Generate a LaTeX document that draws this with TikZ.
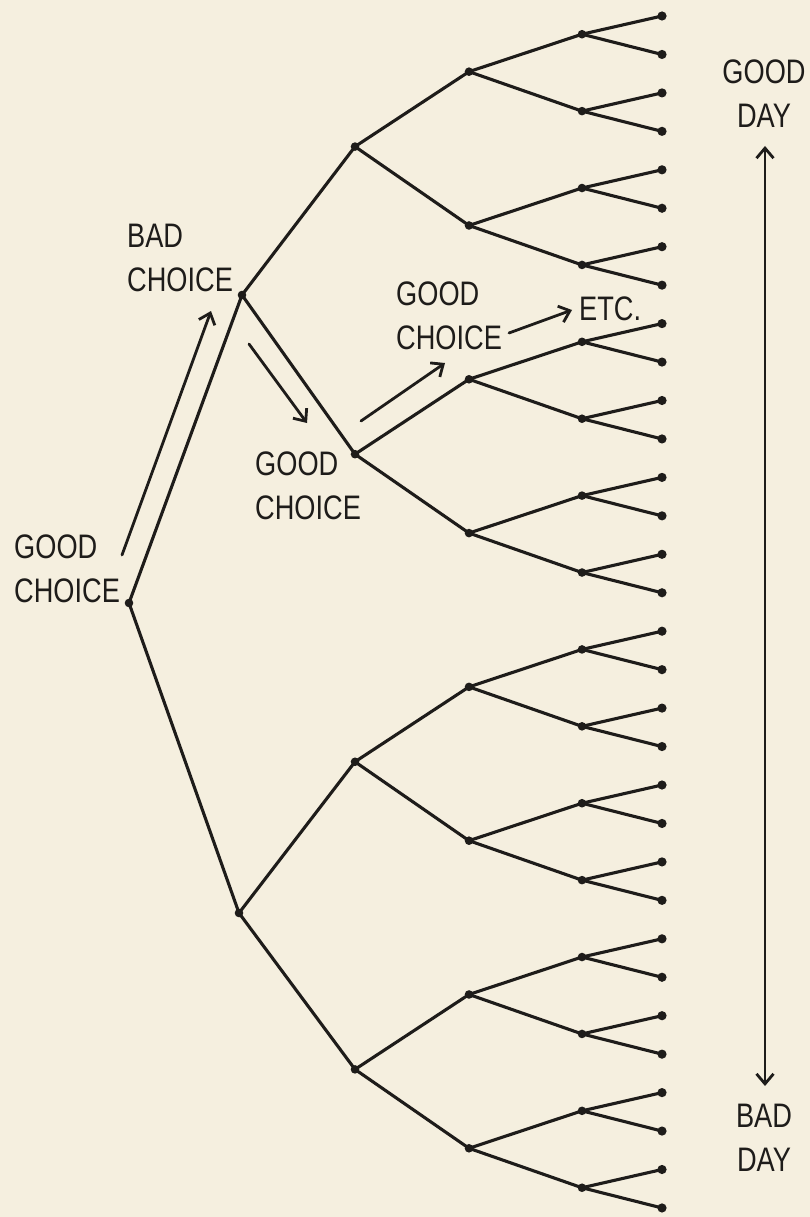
\documentclass[tikz,border=0pt]{standalone}
\usepackage{fontspec}
\newfontfamily\lblfont{Liberation Sans}[FakeStretch=0.8]
\usetikzlibrary{arrows.meta}
\definecolor{bg}{RGB}{245,239,223}
\definecolor{ink}{RGB}{30,28,26}
\begin{document}
\begin{tikzpicture}[x=1pt,y=-1pt,
  edge/.style={draw=ink,line width=3.1pt,line cap=round},
  dotbig/.style={fill=ink},
  barb/.tip={Straight Barb[length=10pt,width=17pt,line width=2.8pt]},
  pointer/.style={draw=ink,line width=2.8pt,line cap=round,-barb},
  lbl/.style={font=\lblfont\fontsize{34}{44}\selectfont,text=ink,inner sep=0pt,align=left,anchor=north west},
  lblc/.style={font=\lblfont\fontsize{34}{44}\selectfont,text=ink,inner sep=0pt,align=center,anchor=north}]
\fill[bg] (0,0) rectangle (810,1217);
\useasboundingbox (0,0) rectangle (810,1217);
% coordinates of the tree
\foreach \i in {0,...,31}{\coordinate (e\i) at (662,{16+\i*38.45});}
\foreach \j in {0,...,15}{\coordinate (d\j) at (582,{15+(2*\j+0.5)*38.45});}
\foreach \k in {0,...,7}{\coordinate (c\k) at (469,{14+(4*\k+1.5)*38.45});}
\foreach \m in {0,...,3}{\coordinate (b\m) at (355,{12+(8*\m+3.5)*38.45});}
\coordinate (a0) at (242,295);
\coordinate (a1) at (239,913);
\coordinate (r) at (129,603);
% edges
\draw[edge] (r) -- (a0);
\draw[edge] (r) -- (a1);
\draw[edge] (a0) -- (b0); \draw[edge] (a0) -- (b1);
\draw[edge] (a1) -- (b2); \draw[edge] (a1) -- (b3);
\foreach \m in {0,...,3}{\pgfmathtruncatemacro\p{2*\m}\pgfmathtruncatemacro\q{2*\m+1}
  \draw[edge] (b\m) -- (c\p); \draw[edge] (b\m) -- (c\q);}
\foreach \k in {0,...,7}{\pgfmathtruncatemacro\p{2*\k}\pgfmathtruncatemacro\q{2*\k+1}
  \draw[edge] (c\k) -- (d\p); \draw[edge] (c\k) -- (d\q);}
\foreach \j in {0,...,15}{\pgfmathtruncatemacro\p{2*\j}\pgfmathtruncatemacro\q{2*\j+1}
  \draw[edge] (d\j) -- (e\p); \draw[edge] (d\j) -- (e\q);}
% dots
\foreach \i in {0,...,31}{\fill[dotbig] (e\i) circle[radius=4.6pt];}
\foreach \j in {0,...,15}{\fill[dotbig] (d\j) circle[radius=4.3pt];}
\foreach \k in {0,...,7}{\fill[dotbig] (c\k) circle[radius=4.3pt];}
\foreach \m in {0,...,3}{\fill[dotbig] (b\m) circle[radius=4.3pt];}
\fill[dotbig] (a0) circle[radius=4.3pt];
\fill[dotbig] (a1) circle[radius=4.3pt];
\fill[dotbig] (r) circle[radius=4.3pt];
% labels
\node[lbl] (t1) at (14,535) {GOOD\\CHOICE};
\node[lbl] (t2) at (127,224) {BAD\\CHOICE};
\node[lbl] (t3) at (255,452) {GOOD\\CHOICE};
\node[lbl] (t4) at (396,282) {GOOD\\CHOICE};
\node[lbl] (t5) at (579,297) {ETC.};
\node[lblc] (t6) at (764,60) {GOOD\\DAY};
\node[lblc] (t7) at (764,1104) {BAD\\DAY};
% pointer arrows
\coordinate (p1s) at (122,555); \coordinate (p1e) at (211,311);
\coordinate (p2s) at (249,344); \coordinate (p2e) at (307,423);
\coordinate (p3s) at (361,421); \coordinate (p3e) at (445,363);
\coordinate (p4s) at (509,333); \coordinate (p4e) at (572,310);
\coordinate (vs) at (765,146); \coordinate (ve) at (765,1086);
\draw[pointer] (p1s) -- (p1e);
\draw[pointer] (p2s) -- (p2e);
\draw[pointer] (p3s) -- (p3e);
\draw[pointer] (p4s) -- (p4e);
\draw[pointer,barb-barb] (vs) -- (ve);
\end{tikzpicture}
\end{document}
